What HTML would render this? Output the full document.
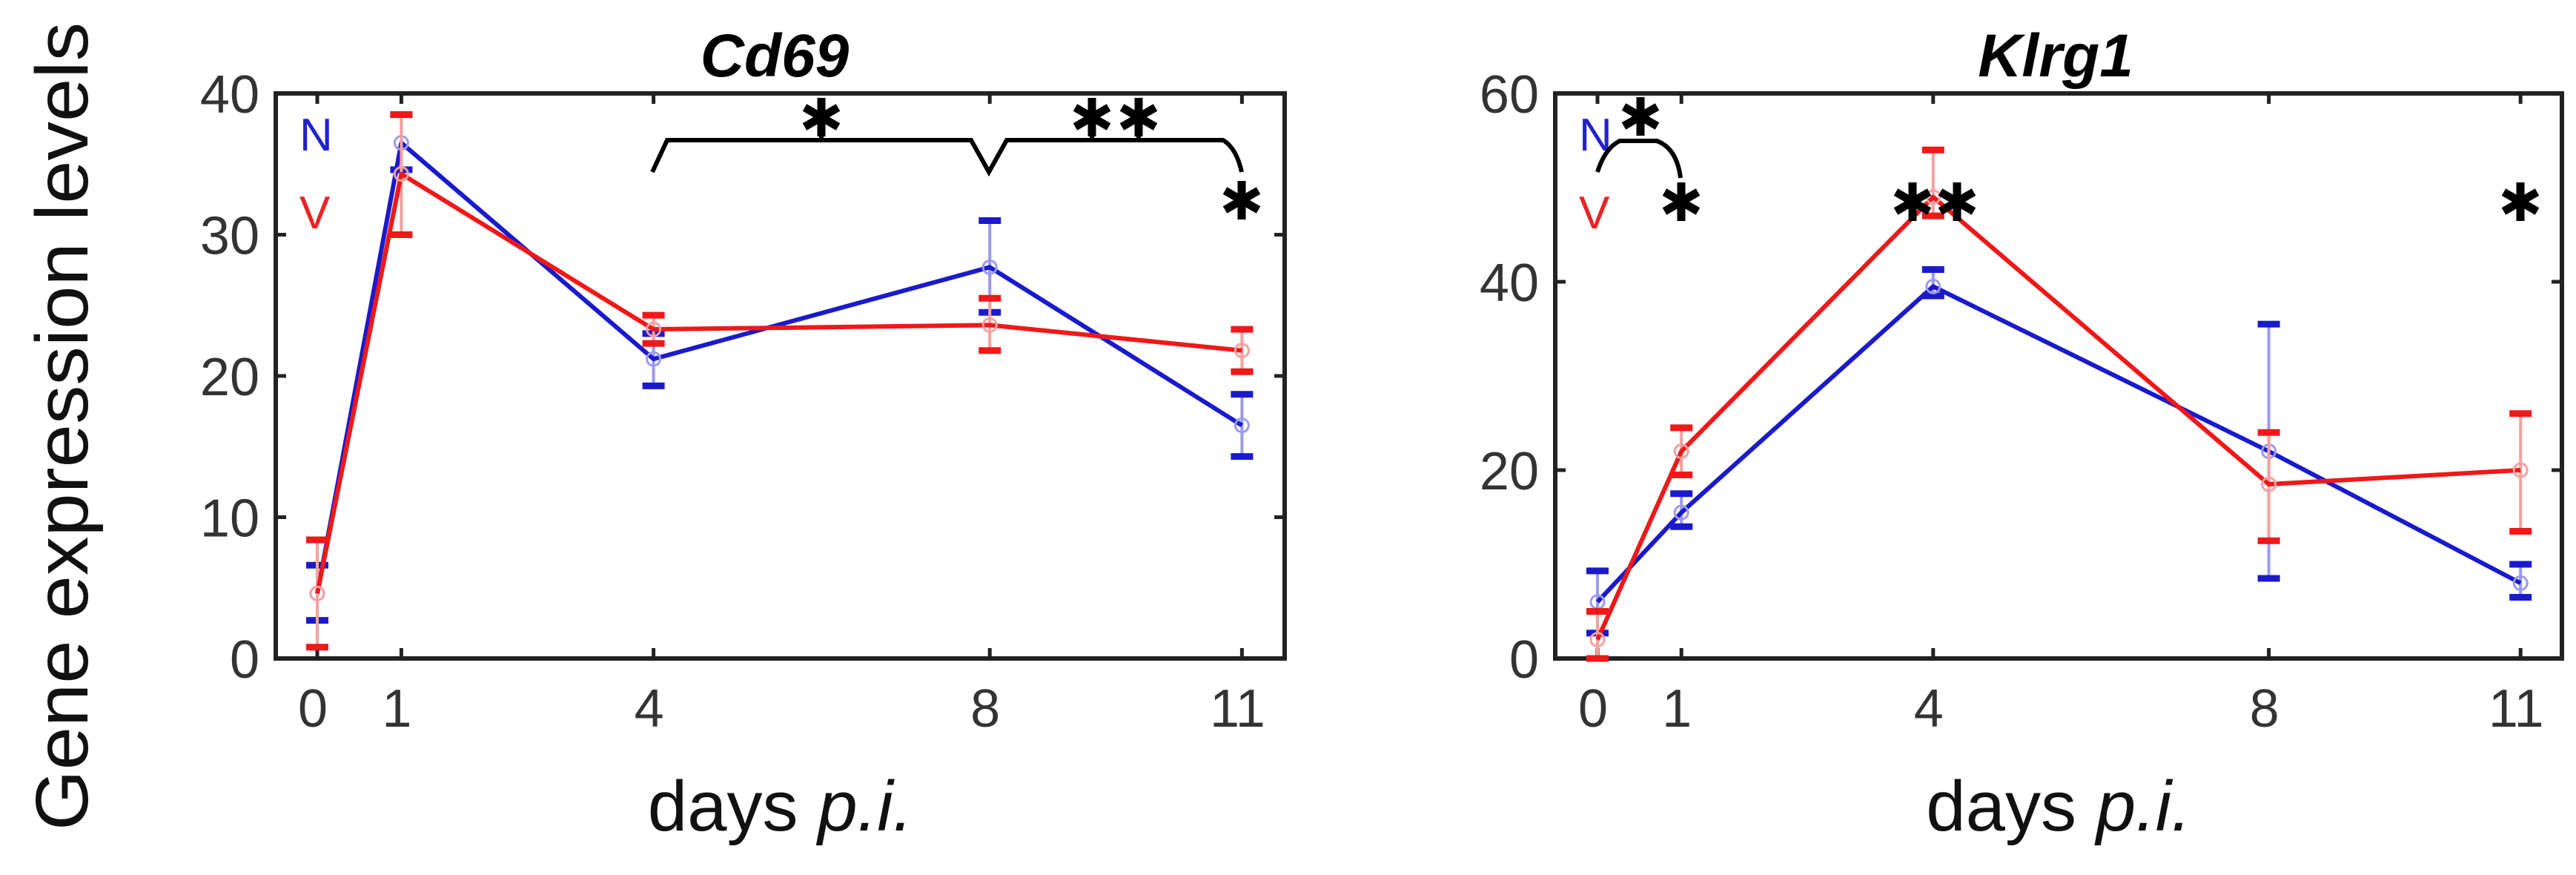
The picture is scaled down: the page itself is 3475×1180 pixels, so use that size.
<!DOCTYPE html>
<html><head><meta charset="utf-8"><style>
html,body{margin:0;padding:0;background:#fff;}
svg{display:block;font-family:"Liberation Sans","DejaVu Sans",sans-serif;}
</style></head><body>
<svg id="fig" width="3475" height="1180" viewBox="0 0 3475 1180" xmlns="http://www.w3.org/2000/svg">
<text transform="translate(118,575) rotate(-90)" text-anchor="middle" font-size="100" textLength="1090" lengthAdjust="spacingAndGlyphs" fill="#111">Gene expression levels</text>
</svg>
<script>
// shared categories
var days = [0, 1, 4, 8, 11];
// Cd69 data
var cd69N = [4.6, 36.5, 21.2, 27.7, 16.5];
var cd69NHi = [6.6, 38.5, 23.0, 31.0, 18.7];
var cd69NLo = [2.7, 34.6, 19.3, 24.5, 14.3];
var cd69V = [4.6, 34.3, 23.3, 23.6, 21.8];
var cd69VHi = [8.4, 38.5, 24.3, 25.5, 23.3];
var cd69VLo = [0.8, 30.0, 22.3, 21.8, 20.3];
var cd69Ticks = [0, 10, 20, 30, 40];
// Klrg1 data
var klrN = [6.0, 15.5, 39.5, 22.0, 8.0];
var klrNHi = [9.3, 17.5, 41.3, 35.5, 10.0];
var klrNLo = [2.7, 14.0, 38.5, 8.5, 6.5];
var klrV = [2.0, 22.0, 49.0, 18.5, 20.0];
var klrVHi = [5.0, 24.5, 54.0, 24.0, 26.0];
var klrVLo = [0.0, 19.5, 47.0, 12.5, 13.5];
var klrTicks = [0, 20, 40, 60];

var NS = "http://www.w3.org/2000/svg";
var svg = document.getElementById('fig');
function mk(tag, attrs, parent) {
  var e = document.createElementNS(NS, tag);
  for (var k in attrs) e.setAttribute(k, attrs[k]);
  (parent || svg).appendChild(e);
  return e;
}
function star(g, cx, cy) {
  var s = mk('g', {}, g);
  
  
  var r = 26;
  for (var a = 0; a < 3; a++) {
    var ang = Math.PI / 2 + a * Math.PI / 3;
    mk('line', {x1: cx - r * Math.cos(ang), y1: cy - r * Math.sin(ang), x2: cx + r * Math.cos(ang), y2: cy + r * Math.sin(ang), stroke: '#000', 'stroke-width': 11}, s);
  }
}
function panel(cfg) {
  var g = mk('g', {});
  
  
  var L = cfg.left, R = cfg.right, T = 126, B = 888;
  function xs(d) { return cfg.x0 + d * cfg.dx; }
  function ys(v) { return B - (v / cfg.ymax) * (B - T); }
  cfg.xs = xs; cfg.ys = ys;
  var ax = mk('rect', {x: L, y: T, width: R - L, height: B - T, fill: 'none', stroke: '#222', 'stroke-width': 6}, g);
  
  
  cfg.ticks.forEach(function (t) {
    var y = ys(t);
    mk('line', {x1: L, y1: y, x2: L + 14, y2: y, stroke: '#222', 'stroke-width': 5}, g);
    mk('line', {x1: R, y1: y, x2: R - 14, y2: y, stroke: '#222', 'stroke-width': 5}, g);
    var tl = mk('text', {x: L - 22, y: y + 26, 'text-anchor': 'end', 'font-size': 72, fill: '#333'}, g);
    
    
    tl.textContent = t;
  });
  days.forEach(function (d) {
    var x = xs(d);
    mk('line', {x1: x, y1: B, x2: x, y2: B - 14, stroke: '#222', 'stroke-width': 5}, g);
    mk('line', {x1: x, y1: T, x2: x, y2: T + 14, stroke: '#222', 'stroke-width': 5}, g);
    var tl = mk('text', {x: x - 6, y: 980, 'text-anchor': 'middle', 'font-size': 72, fill: '#333'}, g);
    
    
    tl.textContent = d;
  });
  var title = mk('text', {x: cfg.titleX, y: 103, 'text-anchor': 'middle', 'font-size': 82, 'font-weight': 'bold', 'font-style': 'italic', fill: '#000'}, g);
  
  
  title.textContent = cfg.title;
  var xt = mk('text', {x: (L + R) / 2, y: 1120, 'text-anchor': 'middle', 'font-size': 96, fill: '#111'}, g);
  
  
  xt.innerHTML = 'days <tspan font-style="italic">p.i.</tspan>';
  var ln = mk('text', {x: L + 32, y: 203, 'font-size': 62, fill: '#2222cc'}, g);
  
  
  ln.textContent = 'N';
  var lv = mk('text', {x: L + 32, y: 308, 'font-size': 62, fill: '#ee2222'}, g);
  
  
  lv.textContent = 'V';
  [['N', cfg.N, cfg.NHi, cfg.NLo, '#1a1acc', '#9a9af0', 'series-n'], ['V', cfg.V, cfg.VHi, cfg.VLo, '#f01818', '#f5a0a0', 'series-v']].forEach(function (s) {
    var sg = mk('g', {}, g);
    
    
    days.forEach(function (d, i) {
      var x = xs(d);
      var eb = mk('line', {x1: x, y1: ys(s[2][i]), x2: x, y2: ys(s[3][i]), stroke: s[5], 'stroke-width': 4}, sg);
      
      
      mk('line', {x1: x - 15, y1: ys(s[2][i]), x2: x + 15, y2: ys(s[2][i]), stroke: s[4], 'stroke-width': 9}, sg);
      mk('line', {x1: x - 15, y1: ys(s[3][i]), x2: x + 15, y2: ys(s[3][i]), stroke: s[4], 'stroke-width': 9}, sg);
    });
    var pts = days.map(function (d, i) { return xs(d) + ',' + ys(s[1][i]); }).join(' ');
    var pl = mk('polyline', {points: pts, fill: 'none', stroke: s[4], 'stroke-width': 6, 'stroke-linejoin': 'round'}, sg);
    
    
    days.forEach(function (d, i) {
      var c = mk('circle', {cx: xs(d), cy: ys(s[1][i]), r: 9, fill: 'none', stroke: s[5], 'stroke-width': 3}, sg);
      
      
    });
  });
  return g;
}
var c1 = {name: 'cd69-panel', left: 372, right: 1733, x0: 428, dx: 113.4, ymax: 40, ticks: cd69Ticks, title: 'Cd69', titleX: 1045,
  N: cd69N, NHi: cd69NHi, NLo: cd69NLo, V: cd69V, VHi: cd69VHi, VLo: cd69VLo};
var g1 = panel(c1);
var c2 = {name: 'klrg1-panel', left: 2098, right: 3456, x0: 2155, dx: 113.2, ymax: 60, ticks: klrTicks, title: 'Klrg1', titleX: 2773,
  N: klrN, NHi: klrNHi, NLo: klrNLo, V: klrV, VHi: klrVHi, VLo: klrVLo};
var g2 = panel(c2);

// significance brackets (annotations)
var b1 = mk('path', {d: 'M880,232 L900,189 L1310,189 L1334,232 L1358,189 L1650,189 Q1668,200 1675,232', fill: 'none', stroke: '#000', 'stroke-width': 6}, g1);


mk('line', {x1: 1108, y1: 160, x2: 1108, y2: 189, stroke: '#000', 'stroke-width': 6}, g1);
mk('line', {x1: 1473, y1: 160, x2: 1473, y2: 189, stroke: '#000', 'stroke-width': 6}, g1);
mk('line', {x1: 1536, y1: 160, x2: 1536, y2: 189, stroke: '#000', 'stroke-width': 6}, g1);
star(g1, 1108, 158); star(g1, 1473, 158); star(g1, 1536, 158); star(g1, 1675, 270);
var b2 = mk('path', {d: 'M2155,232 Q2165,200 2185,190 L2235,190 Q2262,200 2267,240', fill: 'none', stroke: '#000', 'stroke-width': 6}, g2);


star(g2, 2213, 157); star(g2, 2268, 272); star(g2, 2580, 272); star(g2, 2640, 272); star(g2, 3400, 272);
</script>
</body></html>
